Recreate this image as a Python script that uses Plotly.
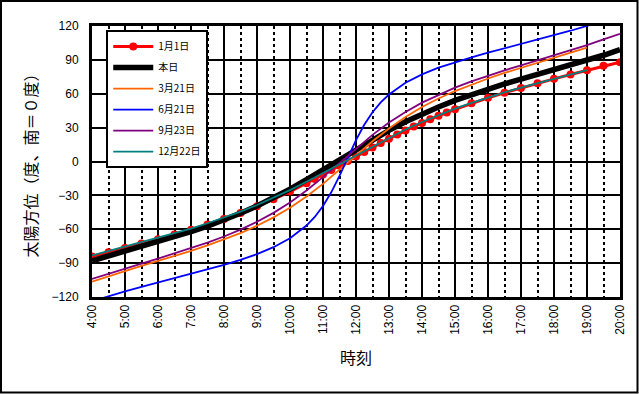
import plotly.graph_objects as go

# ---- data (hours, azimuth in degrees, south = 0) ----
t_jan1 = [4, 4.5, 5, 5.5, 6, 6.5, 7, 7.5, 8, 8.5, 9, 9.5, 10, 10.5, 10.75, 11, 11.25, 11.5, 11.75,
          12, 12.25, 12.5, 12.75, 13, 13.25, 13.5, 13.75, 14, 14.25, 14.5, 14.75, 15,
          15.5, 16, 16.5, 17, 17.5, 18, 18.5, 19, 19.5, 20]
v_jan1 = [-84.2, -80.4, -76.5, -72.7, -68.8, -64.7, -60.4, -55.8, -50.9, -45.5, -39.7, -33.4, -26.6,
          -19.3, -15.4, -11.5, -7.6, -3.6, 0.5, 4.5, 8.5, 12.5, 16.4, 20.2, 23.9, 27.4, 30.9, 34.2,
          37.4, 40.5, 43.4, 46.2, 51.5, 56.4, 60.9, 65.2, 69.3, 73.2, 77.0, 80.8, 84.7, 88.0]

t_half = [4, 4.5, 5, 5.5, 6, 6.5, 7, 7.5, 8, 8.5, 9, 9.5, 10, 10.5, 11, 11.5, 12, 12.5,
          13, 13.5, 14, 14.5, 15, 15.5, 16, 16.5, 17, 17.5, 18, 18.5, 19, 19.5, 20]

v_today = [-87.9, -83.7, -79.6, -75.5, -71.3, -66.9, -62.2, -57.2, -51.8, -45.9, -39.4, -32.2, -24.5,
           -16.1, -7.2, 1.8, 10.8, 19.5, 27.6, 35.2, 42.1, 48.3, 54.1, 59.3, 64.1, 68.7, 73.0,
           77.1, 81.2, 85.4, 89.6, 94.1, 99.0]

t_to19 = t_half[:31]
v_mar21 = [-106.5, -101.6, -97.0, -92.5, -88.2, -83.7, -79.2, -74.3, -69.1, -63.4, -56.9, -49.5, -41.0,
           -31.0, -19.8, -7.4, 5.4, 17.9, 29.3, 39.5, 48.2, 55.8, 62.4, 68.3, 73.5, 78.4, 83.0,
           87.5, 91.8, 96.3, 100.8]

t_jun21 = [4, 4.5, 5, 5.5, 6, 6.5, 7, 7.5, 8, 8.5, 9, 9.5, 10, 10.5, 10.75, 11, 11.25, 11.5, 11.75,
           12, 12.25, 12.5, 12.75, 13, 13.5, 14, 14.5, 15, 15.5, 16, 16.5, 17, 17.5, 18, 18.5, 19, 19.5]
v_jun21 = [-123.8, -119.2, -115.0, -111.0, -107.1, -103.3, -99.5, -95.6, -91.5, -87.1, -82.0, -75.9,
           -67.9, -56.7, -49.1, -39.4, -27.3, -12.8, 3.2, 18.9, 32.5, 43.6, 52.3, 59.3, 69.7, 77.2,
           83.1, 88.0, 92.3, 96.4, 100.2, 104.0, 107.9, 111.8, 115.8, 120.1, 124.7]

v_sep23 = [-104.0, -99.3, -94.8, -90.4, -86.0, -81.5, -76.9, -71.9, -66.4, -60.3, -53.4, -45.5, -36.3,
           -25.7, -13.8, -1.2, 11.6, 23.6, 34.5, 43.9, 52.1, 59.1, 65.4, 70.9, 76.0, 80.7, 85.2,
           89.6, 94.0, 98.5, 103.1, 108.2, 113.0]

v_dec22 = [-83.2, -79.3, -75.5, -71.7, -67.8, -63.7, -59.4, -54.7, -49.7, -44.4, -38.5, -32.1, -25.3,
           -17.9, -10.2, -2.2, 5.8, 13.6, 21.2, 28.3, 35.0, 41.1, 46.8, 52.0, 56.8, 61.3, 65.5,
           69.5, 73.4, 77.2, 81.0]

x_ticks = list(range(4, 21))
x_ticktext = [f"{h}:00" for h in x_ticks]
x_minor = [h + 0.5 for h in range(4, 20)]
y_ticks = [-120, -90, -60, -30, 0, 30, 60, 90, 120]

names = ["1月1日", "本日", "3月21日", "6月21日", "9月23日", "12月22日"]

FONT = "Noto Sans CJK JP, Liberation Sans, sans-serif"

fig = go.Figure()
fig.add_trace(go.Scatter(x=t_jan1, y=v_jan1, name=names[0], legendgroup="g1", mode="lines+markers",
                         line=dict(color="#FF0000", width=3),
                         marker=dict(color="#FF0000", size=8, symbol="circle")))
fig.add_trace(go.Scatter(x=t_half, y=v_today, name=names[1], legendgroup="g2", mode="lines",
                         line=dict(color="#000000", width=5.5)))
fig.add_trace(go.Scatter(x=t_to19, y=v_mar21, name=names[2], legendgroup="g3", mode="lines",
                         line=dict(color="#FF6600", width=1.8)))
fig.add_trace(go.Scatter(x=t_jun21, y=v_jun21, name=names[3], legendgroup="g4", mode="lines",
                         line=dict(color="#0000FF", width=1.8)))
fig.add_trace(go.Scatter(x=t_half, y=v_sep23, name=names[4], legendgroup="g5", mode="lines",
                         line=dict(color="#800080", width=1.8)))
fig.add_trace(go.Scatter(x=t_to19, y=v_dec22, name=names[5], legendgroup="g6", mode="lines",
                         line=dict(color="#008080", width=1.8)))

# outer frame of the chart
fig.add_shape(type="rect", xref="paper", yref="paper",
              x0=-91.0 / 528, x1=(637.5 - 92) / 528, y0=(297 - 392.5) / 271, y1=(297 - 1.0) / 271,
              line=dict(color="black", width=2), fillcolor="rgba(0,0,0,0)", layer="above")

fig.update_layout(
    width=639, height=394,
    margin=dict(l=92, r=19, t=26, b=97),
    paper_bgcolor="white", plot_bgcolor="white",
    font=dict(family=FONT, color="black", size=12),
    showlegend=True,
    legend=dict(x=0.027, y=0.985, xanchor="left", yanchor="top",
                bgcolor="white", bordercolor="black", borderwidth=2,
                font=dict(family=FONT, size=10, color="black"),
                tracegroupgap=2, itemwidth=40),
    xaxis=dict(range=[4, 20], tickmode="array", tickvals=x_ticks, ticktext=x_ticktext,
               tickangle=-90, tickfont=dict(family="Liberation Sans, Arial, sans-serif", size=12),
               showgrid=True, gridcolor="black", gridwidth=2,
               minor=dict(tickmode="array", tickvals=x_minor, showgrid=True, gridcolor="black",
                          gridwidth=1.5, griddash="dot"),
               showline=True, linecolor="black", linewidth=3, mirror=True,
               ticks="", zeroline=False,
               title=dict(text="時刻", font=dict(family=FONT, size=16), standoff=19)),
    yaxis=dict(range=[-120, 120], tickmode="array", tickvals=y_ticks,
               tickfont=dict(family="Liberation Sans, Arial, sans-serif", size=12),
               showgrid=True, gridcolor="black", gridwidth=2,
               showline=True, linecolor="black", linewidth=3, mirror=True,
               ticks="", zeroline=False, ticklabelstandoff=8,
               title=dict(text="太陽方位（度、南＝０度）", font=dict(family=FONT, size=16), standoff=10)),
)

fig.write_html("out.html", config={"displayModeBar": False},
               post_script="document.body.style.margin='0';document.body.style.overflow='hidden';")
